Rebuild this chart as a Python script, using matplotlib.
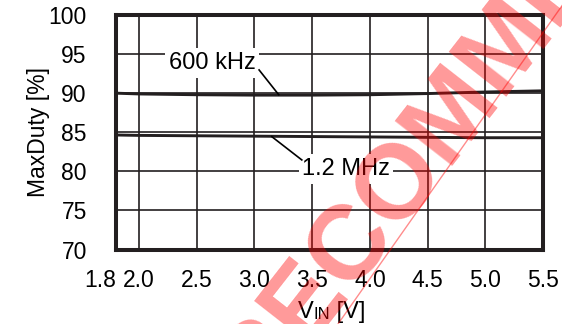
import numpy as np
import matplotlib
matplotlib.use("Agg")
import matplotlib.pyplot as plt

plt.rcParams['font.family'] = ['Liberation Sans', 'DejaVu Sans']

vin = [1.8, 2.0, 2.5, 3.0, 3.5, 4.0, 4.5, 5.0, 5.5]
duty_600k = [90.0, 89.9, 89.8, 89.75, 89.75, 89.8, 89.95, 90.15, 90.3]
duty_1m2 = [84.65, 84.6, 84.55, 84.5, 84.45, 84.4, 84.35, 84.3, 84.3]
xticks = [1.8, 2.0, 2.5, 3.0, 3.5, 4.0, 4.5, 5.0, 5.5]
yticks = [70, 75, 80, 85, 90, 95, 100]

ink = '#231f20'

fig = plt.figure(figsize=(5.62, 3.24), dpi=100)
ax = fig.add_axes([0.2064, 0.2299, 0.7598, 0.7238])

ax.plot(vin, duty_600k, color=ink, lw=2.1, zorder=3)
ax.plot(vin, duty_1m2, color=ink, lw=2.1, zorder=3)

ax.set_xlim(1.8, 5.5)
ax.set_ylim(70, 100)
ax.set_xticks(xticks)
ax.set_xticklabels([f"{v:.1f}" for v in xticks])
ax.set_yticks(yticks)
ax.tick_params(length=0, labelsize=16.5, colors='black')
ax.tick_params(axis='x', pad=14)
ax.tick_params(axis='y', pad=21)
ax.get_xticklabels()[0].set_horizontalalignment('right')
ax.grid(True, color=ink, lw=1.2)
for s in ax.spines.values():
    s.set_linewidth(2.9)
    s.set_color(ink)
    s.set_zorder(4)

ax.set_ylabel("MaxDuty [%]", fontsize=16.5, labelpad=-1)

# labels with leader lines
box = dict(boxstyle='square,pad=0.15', fc='white', ec='none')
ax.text(2.632, 93.86, "600 kHz", fontsize=17, ha='center', va='center', bbox=box, zorder=5)
ax.plot([3.04, 3.21], [92.97, 89.8], color='black', lw=1.2, zorder=5)
ax.text(3.793, 80.3, "1.2 MHz", fontsize=17, ha='center', va='center', bbox=box, zorder=5)
ax.plot([3.15, 3.41], [84.44, 81.46], color='black', lw=1.2, zorder=5)

# x label: V with small-caps IN
xl = fig.text(298 / 562, 1 - 318 / 324, "V", fontsize=17, ha='left', va='baseline')
sub = ax.annotate("IN", xy=(1, 0), xycoords=xl, xytext=(0, 1.0), textcoords='offset points',
                  fontsize=12, ha='left', va='bottom')
ax.annotate(" [V]", xy=(1, 0), xycoords=sub, xytext=(0, -1.0), textcoords='offset points',
            fontsize=17, ha='left', va='bottom')

# watermark
fig.text(423 / 562, 1 - 159 / 324, "NOT RECOMMENDED", fontsize=76, fontweight='bold',
         color='red', alpha=0.4, rotation=52, rotation_mode='anchor',
         ha='center', va='center', zorder=10)
fig.add_artist(plt.Line2D([338 / 562, 566 / 562], [0, 1], transform=fig.transFigure,
                          color='red', alpha=0.45, lw=1.0, zorder=10))

fig.savefig("out.png", dpi=100)
